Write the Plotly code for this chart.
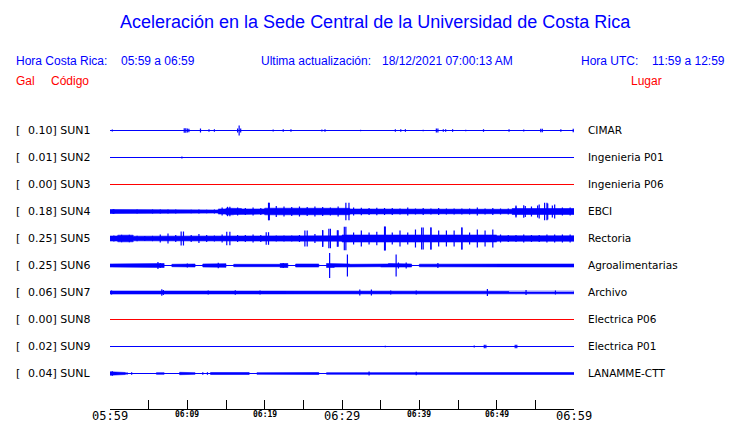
import plotly.graph_objects as go

# ---------------- data ----------------
title_text = "Aceleración en la Sede Central de la Universidad de Costa Rica"
hora_cr_label = "Hora Costa Rica:"
hora_cr_range = "05:59 a 06:59"
update_label = "Ultima actualización:"
update_value = "18/12/2021 07:00:13 AM"
hora_utc_label = "Hora UTC:"
hora_utc_range = "11:59 a 12:59"

codes = ["SUN1", "SUN2", "SUN3", "SUN4", "SUN5", "SUN6", "SUN7", "SUN8", "SUN9", "SUNL"]
gal = [0.10, 0.01, 0.00, 0.18, 0.25, 0.25, 0.06, 0.00, 0.02, 0.04]
places = ["CIMAR", "Ingenieria P01", "Ingenieria P06", "EBCI", "Rectoria",
          "Agroalimentarias", "Archivo", "Electrica P06", "Electrica P01", "LANAMME-CTT"]

tick_minutes = list(range(0, 61, 5))
tick_labels = ["05:59", "", "06:09", "", "06:19", "", "06:29", "", "06:39", "", "06:49", "", "06:59"]
major_ticks = ["05:59", "06:29", "06:59"]

# amplitude envelopes per minute (dense core band half-height, in trace amplitude units)
core_sun4 = [2.0, 1.5, 1.5, 1.5, 1.5, 1.5, 1.5, 1.5, 2.0, 1.5, 1.5, 1.8, 1.8, 1.5,
             2.5, 3.3, 3.0, 2.5, 2.5, 2.5, 3.3, 3.5, 3.3, 3.0, 3.0, 3.0, 3.0, 3.0, 3.0, 3.2, 3.2,
             2.5, 2.5, 2.5, 2.5, 2.5,
             2.2, 2.2, 2.2, 2.2, 2.2, 2.2, 2.2, 2.2, 2.2, 2.2, 2.2, 2.2, 2.2, 2.2, 2.2, 2.2,
             3.0, 3.0, 3.5, 3.5, 3.5, 3.5, 3.0, 3.0]
peak_sun4 = [2.3, 1.5, 1.5, 2.0, 1.5, 2.0, 2.0, 2.0, 2.0, 1.5, 1.8, 2.0, 1.8, 2.0,
             4.0, 4.7, 4.0, 3.5, 4.0, 3.5, 8.8, 5.5, 5.0, 4.5, 5.0, 4.5, 5.0, 4.5, 4.0, 5.0, 8.8,
             4.0, 3.7, 3.5, 3.7, 3.5,
             3.5, 3.0, 4.0, 3.0, 3.5, 3.0, 3.5, 3.0, 3.0, 3.0, 3.0, 4.0, 3.0, 3.5, 3.0, 3.0,
             6.0, 6.3, 5.0, 7.0, 8.8, 7.0, 4.0, 4.0]

core_sun5 = [2.5, 3.3, 3.3, 2.3, 2.3, 2.3, 3.0, 3.0, 2.5, 2.7, 2.5, 2.7, 2.7, 2.5, 2.7,
             3.0, 2.5, 2.7, 2.7, 2.5, 2.5, 2.3, 2.3, 2.3, 2.3, 2.7, 2.7, 2.7, 2.7, 2.7,
             3.5, 3.5, 3.5, 3.5, 3.5, 3.5, 3.5, 3.5, 3.5, 3.5,
             3.5, 3.5, 3.5, 3.5, 3.5, 3.5, 3.5, 3.5, 3.5, 3.5,
             2.7, 2.7, 2.7, 2.7, 2.7, 2.7, 2.7, 2.7, 2.7, 2.7]
peak_sun5 = [3.0, 3.7, 3.7, 2.7, 2.5, 2.7, 4.0, 5.0, 3.5, 7.0, 3.5, 4.5, 3.5, 3.0, 4.0,
             6.7, 3.5, 3.5, 4.0, 3.5, 6.3, 3.0, 3.0, 3.0, 3.5, 8.0, 4.5, 8.3, 9.7, 8.3,
             11.7, 6.0, 8.0, 6.0, 6.7, 12.0, 6.0, 8.0, 6.0, 9.0,
             11.0, 11.0, 8.0, 8.0, 8.0, 11.0, 6.0, 9.0, 8.0, 9.0,
             4.0, 3.5, 3.5, 4.0, 3.5, 3.5, 4.0, 4.0, 4.0, 4.0]

core_sun6 = [1.5, 1.5, 1.5, 1.5, 1.5, 1.8, 2.0, 0.0, 1.2, 1.5, 1.5, 0.0, 1.5, 1.5, 1.8,
             0.0, 1.2, 1.5, 1.2, 1.2, 1.5, 1.2, 2.0, 0.0, 1.5, 1.5, 1.5, 0.0, 2.0, 1.5,
             1.5, 1.2, 1.2, 1.3, 1.2, 1.5, 2.0, 2.0, 1.5, 0.0, 1.3, 1.5, 1.5, 1.3, 1.3,
             1.5, 1.5, 1.3, 1.3, 1.3, 1.2, 1.3, 1.3, 1.3, 1.3, 1.3, 1.3, 1.3, 1.5, 1.5]

core_sun7 = [1.5, 1.3, 1.3, 1.3, 1.0, 1.3, 1.5, 1.3, 1.3, 1.0, 1.3, 1.3, 1.5, 1.3, 1.3,
             1.3, 1.5, 1.3, 1.3, 1.5, 1.3, 1.3, 1.3, 1.3, 1.3, 1.3, 1.3, 1.3, 1.3, 1.3,
             1.3, 1.3, 1.5, 1.5, 1.3, 1.3, 1.5, 1.3, 1.3, 1.3, 1.3, 1.3, 1.3, 1.3, 1.3,
             1.3, 1.3, 1.3, 1.5, 1.3, 1.3, 1.3, 1.3, 1.5, 1.3, 1.3, 1.3, 1.5, 1.3, 1.3]

core_sunl = [1.7, 1.0, 0.0, 0.0, 0.0, 0.0, 0.8, 0.0, 0.0, 1.2, 0.8, 0.0, 0.0, 1.0, 1.0,
             1.0, 0.8, 1.0, 0.0, 0.8, 1.0, 0.8, 1.0, 0.8, 0.8, 1.0, 1.0, 0.0, 0.8, 1.0,
             1.0, 0.9, 1.0, 1.2, 0.9, 1.0, 0.9, 1.0, 0.9, 1.0, 0.9, 1.0, 0.9, 1.0, 0.9,
             1.2, 1.2, 1.2, 0.9, 1.0, 0.9, 1.0, 0.9, 1.0, 0.9, 1.0, 0.9, 1.0, 0.9, 1.0]

# isolated spikes: (minute, half amplitude)
spikes_sun1 = [(0.3, 1.0), (9.6, 2.3), (9.8, 2.3), (10.0, 2.0), (10.2, 1.7), (11.7, 2.0),
               (12.8, 1.3), (13.5, 1.3), (16.5, 2.0), (16.7, 5.0), (16.9, 2.0), (21.1, 1.0),
               (22.4, 1.3), (23.4, 1.3), (27.4, 1.0), (27.8, 1.3), (32.4, 0.7), (36.9, 1.3),
               (37.6, 1.3), (38.2, 1.3), (40.5, 0.7), (42.2, 2.0), (42.4, 2.0), (43.1, 1.3),
               (43.4, 1.3), (44.3, 1.3), (46.0, 0.7), (48.3, 1.3), (51.6, 1.3), (53.5, 1.0),
               (55.7, 1.7), (55.9, 1.7), (58.3, 1.3), (59.9, 1.7)]
spikes_sun2 = [(9.3, 1.0)]
spikes_sun4 = [(0.4, 2.3), (15.2, 4.7), (20.6, 8.8), (30.9, 8.8), (52.5, 5.0),
               (53.7, 5.5), (55.3, 6.0), (56.2, 8.8), (56.6, 8.0), (57.2, 6.0)]
spikes_sun5 = [(9.2, 7.0), (15.1, 6.7), (20.2, 6.3), (25.2, 8.0), (27.5, 8.3), (28.3, 9.7),
               (29.4, 8.3), (30.3, 11.7), (35.6, 12.0), (40.3, 11.0), (41.5, 11.0), (45.5, 11.0)]
spikes_sun6 = [(6.2, 3.5), (6.5, 2.5), (10.0, 2.0), (14.0, 2.7), (22.4, 2.5), (28.4, 12.5),
               (30.7, 11.0), (37.0, 11.0), (37.3, 3.0), (38.3, 3.0), (42.4, 2.5)]
spikes_sun7 = [(0.2, 2.0), (6.7, 3.3), (6.9, 2.5), (12.7, 2.0), (16.2, 2.3), (19.4, 2.0),
               (32.3, 3.0), (33.8, 3.0), (36.3, 2.0), (39.6, 2.0), (48.8, 3.5), (53.8, 2.5),
               (57.6, 2.0)]
spikes_sun9 = [(35.6, 0.7), (47.1, 1.0), (48.4, 1.7), (48.6, 1.7), (52.4, 1.7), (52.6, 1.7)]
spikes_sunl = [(0.3, 2.3), (2.2, 1.3), (2.8, 1.3), (12.0, 1.3), (12.6, 1.3), (33.5, 2.0), (39.6, 1.7)]

cores = [None, None, None, core_sun4, core_sun5, core_sun6, core_sun7, None, None, core_sunl]
peaks = [None, None, None, peak_sun4, peak_sun5, None, None, None, None, None]
spikes = [spikes_sun1, spikes_sun2, [], spikes_sun4, spikes_sun5, spikes_sun6, spikes_sun7,
          [], spikes_sun9, spikes_sunl]

# ---------------- layout geometry ----------------
OFF = 8                      # page body margin of the html file
W, H = 740 - OFF, 423 - OFF  # figure size
L, T = 110 - OFF, 110 - OFF  # plot area origin (figure coords)
PW, PH = 464, 299
R = W - L - PW
B = H - T - PH
SCALE = 27.0  # amplitude units per trace spacing
PIX = 0.5 / SCALE  # half-pixel nudge so 1px lines fall on a pixel row
BLUE = "#0000ff"
RED = "#ff0000"
Y_TOP = 20 / SCALE
Y_BOT = -(PH - 20) / SCALE


def px_x(px):
    """page pixel x -> paper coordinate"""
    return (px - OFF - L) / PW


def px_y(py):
    """page pixel y -> paper coordinate"""
    return (T + PH - (py - OFF)) / PH


fig = go.Figure()

for k, code in enumerate(codes):
    c = -k - PIX
    color = RED if gal[k] == 0 else BLUE
    fig.add_trace(go.Scatter(x=[0, 60], y=[c, c], mode="lines",
                             line=dict(color=color, width=1), hoverinfo="skip", showlegend=False))
    core = cores[k]
    if core is not None:
        xs, ys = [], []
        for m, a in enumerate(core):
            xs += [m, m + 1]
            ys += [c + a / SCALE, c + a / SCALE]
        for m in range(len(core) - 1, -1, -1):
            a = core[m]
            xs += [m + 1, m]
            ys += [c - a / SCALE, c - a / SCALE]
        fig.add_trace(go.Scatter(x=xs, y=ys, mode="lines", fill="toself", fillcolor=color,
                                 line=dict(color=color, width=0.6), hoverinfo="skip", showlegend=False))
    sx, sy = [], []
    pk = peaks[k]
    if pk is not None:
        for m, a in enumerate(pk):
            sx += [m + 0.5, m + 0.5, None]
            sy += [c - a / SCALE, c + a / SCALE, None]
    for (m, a) in spikes[k]:
        sx += [m, m, None]
        sy += [c - a / SCALE, c + a / SCALE, None]
    if sx:
        fig.add_trace(go.Scatter(x=sx, y=sy, mode="lines", connectgaps=False,
                                 line=dict(color=color, width=1.2), hoverinfo="skip", showlegend=False))

    fig.add_annotation(text="[", x=px_x(15), y=-k, xref="paper", yref="y", xanchor="left",
                       yanchor="middle", showarrow=False, borderpad=0,
                       font=dict(family="DejaVu Sans", size=11, color="#000"))
    fig.add_annotation(text=f"{gal[k]:.2f}] {code}", x=px_x(27), y=-k, xref="paper", yref="y",
                       xanchor="left", yanchor="middle", showarrow=False, borderpad=0,
                       font=dict(family="DejaVu Sans", size=11, color="#000"))
    fig.add_annotation(text=places[k], x=px_x(587), y=-k, xref="paper", yref="y",
                       xanchor="left", yanchor="middle", showarrow=False, borderpad=0,
                       font=dict(family="DejaVu Sans", size=10.5, color="#000"))

for m, lab in zip(tick_minutes, tick_labels):
    if not lab:
        continue
    if lab in major_ticks:
        fig.add_annotation(text=lab, x=m, y=px_y(415.5), xref="x", yref="paper", xanchor="center",
                           yanchor="middle", showarrow=False, borderpad=0,
                           font=dict(family="DejaVu Sans Mono", size=12, color="#000"))
    else:
        fig.add_annotation(text=f"<b>{lab}</b>", x=m, y=px_y(414.5), xref="x", yref="paper",
                           xanchor="center", yanchor="middle", showarrow=False, borderpad=0,
                           font=dict(family="DejaVu Sans Mono", size=8, color="#000"))

hdr = dict(family="Liberation Sans, Arial", size=12, color=BLUE)
red = dict(family="Liberation Sans, Arial", size=12, color=RED)
header_items = [
    (title_text, 375, 22, "center", dict(family="Liberation Sans, Arial", size=18, color=BLUE)),
    (hora_cr_label, 15, 61, "left", hdr),
    (hora_cr_range, 120, 61, "left", hdr),
    (update_label, 260, 61, "left", hdr),
    (update_value, 381, 61, "left", hdr),
    (hora_utc_label, 580, 61, "left", hdr),
    (hora_utc_range, 651, 61, "left", hdr),
    ("Gal", 15, 81, "left", red),
    ("Código", 50, 81, "left", red),
    ("Lugar", 630, 81, "left", red),
]
for text, px, py, xa, f in header_items:
    fig.add_annotation(text=text, x=px_x(px), y=px_y(py), xref="paper", yref="paper",
                       xanchor=xa, yanchor="middle", showarrow=False, borderpad=0, font=f)

fig.update_layout(
    width=W, height=H,
    margin=dict(l=L, r=R, t=T, b=B, pad=0),
    paper_bgcolor="white", plot_bgcolor="white",
    showlegend=False,
    xaxis=dict(range=[0, 60], tickvals=tick_minutes, ticks="inside", ticklen=9, tickwidth=1,
               tickcolor="#000", showline=True, linecolor="#000", linewidth=1,
               showticklabels=False, showgrid=False, zeroline=False, fixedrange=True),
    yaxis=dict(range=[Y_BOT, Y_TOP], visible=False, showgrid=False, zeroline=False, fixedrange=True),
)

fig.write_html("out.html")
